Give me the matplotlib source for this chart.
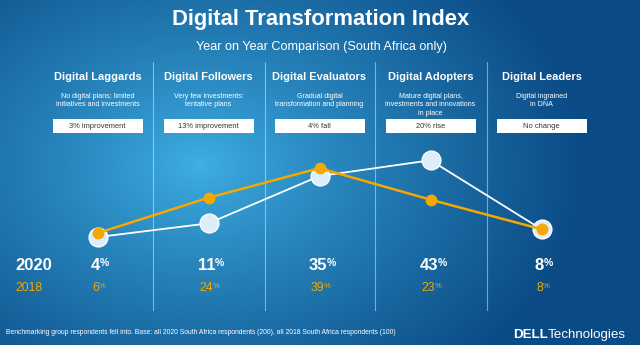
import numpy as np
import matplotlib
matplotlib.use("Agg")
import matplotlib.pyplot as plt
from matplotlib.colors import to_rgb
from matplotlib.patches import Rectangle

plt.rcParams['font.family'] = ['Liberation Sans', 'DejaVu Sans']

# ---- data ----
categories = ["Digital Laggards", "Digital Followers", "Digital Evaluators",
              "Digital Adopters", "Digital Leaders"]
descriptions = ["No digital plans; limited\ninitiatives and investments",
                "Very few investments:\ntentative plans",
                "Gradual digital\ntransformation and planning",
                "Mature digital plans,\ninvestments and innovations\nin place",
                "Digital ingrained\nin DNA"]
changes = ["3% improvement", "13% improvement", "4% fall", "20% rise", "No change"]
values_2020 = [4, 11, 35, 43, 8]
values_2018 = [6, 24, 39, 23, 8]

W, H = 640, 345
ORANGE = "#f5a800"
fig = plt.figure(figsize=(W / 100, H / 100), dpi=100)

# ---- background with radial glow ----
bg = fig.add_axes([0, 0, 1, 1])
bg.set_xlim(0, W)
bg.set_ylim(H, 0)
bg.axis("off")
xx, yy = np.meshgrid(np.arange(W) + 0.5, np.arange(H) + 0.5)
d = np.sqrt(((xx - 200) / 390) ** 2 + ((yy - 165) / 280) ** 2)
t = np.clip(d, 0, 1) ** 0.85
light = np.array(to_rgb("#3eb0e4"))
dark = np.array(to_rgb("#0a4a85"))
img = light[None, None, :] * (1 - t[..., None]) + dark[None, None, :] * t[..., None]
bg.imshow(img, extent=(0, W, H, 0), aspect="auto", zorder=0)

# titles
bg.text(321, 20, "Digital Transformation Index", color="white", fontsize=15.8,
        fontweight="bold", ha="center", va="center")
bg.text(322, 47, "Year on Year Comparison (South Africa only)", color="white",
        fontsize=9.1, ha="center", va="center")

# column dividers
for xd in [153, 265, 375, 487]:
    bg.plot([xd, xd], [62, 310], color="white", alpha=0.45, lw=0.8, zorder=1)

col_x = [97.5 + 111 * i for i in range(len(categories))]
for cx, cat, desc, ch in zip(col_x, categories, descriptions, changes):
    bg.text(cx, 77, cat, color="white", fontsize=7.9, fontweight="bold",
            ha="center", va="center")
    bg.text(cx, 93, desc, color="white", fontsize=5.1, ha="center", va="top",
            linespacing=1.3)
    bg.add_patch(Rectangle((cx - 45, 119), 90, 13.5, facecolor="white",
                           edgecolor="none", zorder=2))
    bg.text(cx, 126, ch, color="#333333", fontsize=5.4, ha="center", va="center",
            zorder=3)

# year labels and values
bg.text(15, 266, "2020", color="white", fontsize=12, fontweight="bold",
        ha="left", va="center")
bg.text(15, 288, "2018", color=ORANGE, fontsize=8.8, ha="left", va="center")
for cx, v20, v18 in zip(col_x, values_2020, values_2018):
    t20 = bg.text(cx - 2, 266, f"{v20}", color="white", fontsize=12,
                  fontweight="bold", ha="center", va="center")
    bg.annotate("%", xy=(0.98, 1.0), xycoords=t20, color="white", fontsize=7.5,
                fontweight="bold", ha="left", va="top")
    t18 = bg.text(cx - 2, 288, f"{v18}", color=ORANGE, fontsize=8.8,
                  ha="center", va="center")
    bg.annotate("%", xy=(0.98, 0.95), xycoords=t18, color=ORANGE, fontsize=5.5,
                ha="left", va="top")

# footer
bg.text(6, 333, "Benchmarking group respondents fell into. Base: all 2020 South Africa "
        "respondents (200), all 2018 South Africa respondents (100)",
        color="white", fontsize=4.9, ha="left", va="center")
logo = bg.text(513, 335, "DELL", color="white", fontsize=9.6, fontweight="bold",
               ha="left", va="center")
bg.annotate("Technologies", xy=(1.0, 0.5), xycoords=logo, color="white",
            fontsize=9.6, ha="left", va="center")

# ---- line chart ----
px_per_unit = 1.97
y0_px = 245.0
top_px, bot_px = 140.0, 250.0
left_px, right_px = 42.0, 597.0
ax = fig.add_axes([left_px / W, (H - bot_px) / H, (right_px - left_px) / W,
                   (bot_px - top_px) / H])
ax.set_xlim(-0.5, len(categories) - 0.5)
ax.set_ylim((y0_px - bot_px) / px_per_unit, (y0_px - top_px) / px_per_unit)
ax.axis("off")
ax.patch.set_alpha(0)
xs = np.arange(len(categories))
ax.plot(xs, values_2020, color="white", lw=1.3, zorder=2)
ax.plot(xs, values_2020, linestyle="none", marker="o", markersize=13.5,
        markerfacecolor="#ddeefa", markeredgecolor="white", markeredgewidth=1.0,
        zorder=3)
ax.plot(xs, values_2018, color=ORANGE, lw=1.8, marker="o", markersize=7.5,
        markerfacecolor=ORANGE, markeredgecolor=ORANGE, zorder=4)

fig.savefig("out.png", dpi=100)
